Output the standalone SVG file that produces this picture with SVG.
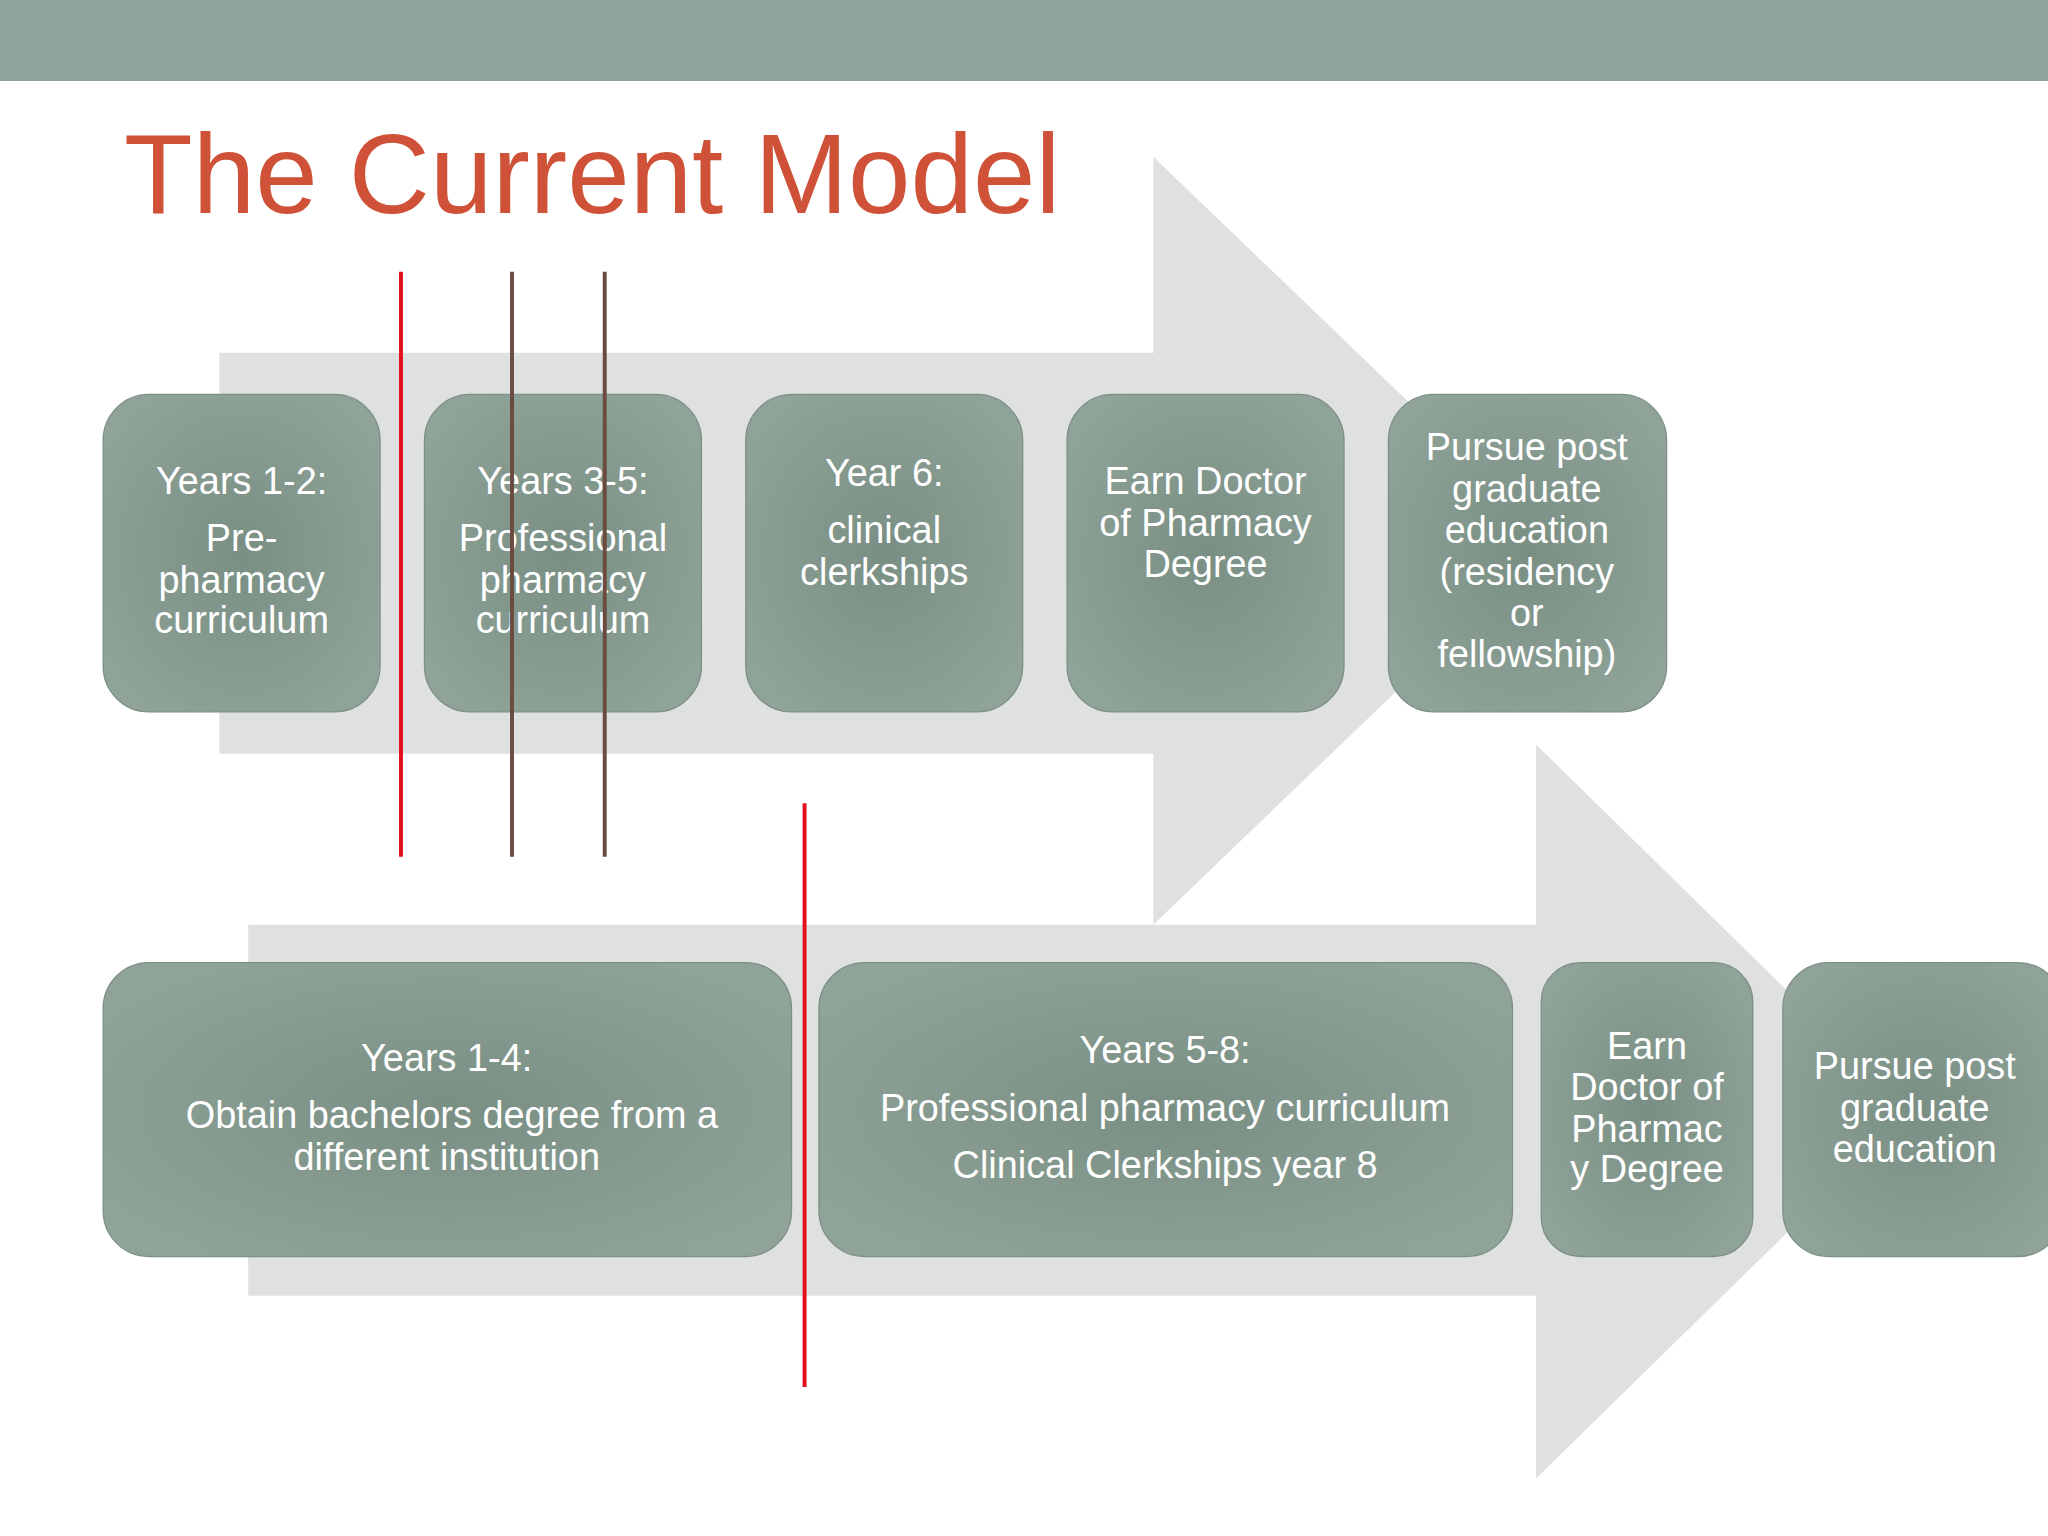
<svg xmlns="http://www.w3.org/2000/svg" width="2048" height="1536" viewBox="0 0 2048 1536">
<defs>
<radialGradient id="g" cx="50%" cy="50%" r="60%"><stop offset="0" stop-color="#7a8f84"/><stop offset="1" stop-color="#8fa398"/></radialGradient>
<style>
.n{fill:url(#g);stroke:#7d8f86;stroke-width:1}
.t{font-family:"Liberation Sans",Arial,sans-serif;font-size:29px;fill:#fff;text-anchor:middle}
.arr{fill:#dfe1e1}
</style>
</defs>
<rect width="2048" height="1536" fill="#fff"/>
<g transform="scale(1.30612)">
<rect x="0" y="0" width="1568" height="62" fill="#8fa39a"/>
<text x="95" y="163" font-family="Liberation Sans,Arial,sans-serif" font-size="86" fill="#cf5238">The Current Model</text>
<g id="arrows">
<polygon class="arr" points="168,270 883,270 883,120 1189,414 883,708 883,577 168,577"/>
<polygon class="arr" points="190,708 1176,708 1176,570 1463,851 1176,1132 1176,992 190,992"/>
</g>
<g id="n1"><rect class="n" x="79" y="302" width="212" height="243" rx="35"/><text class="t" x="185" y="378">Years 1-2:</text><text class="t" x="185" y="422">Pre-</text><text class="t" x="185" y="454">pharmacy</text><text class="t" x="185" y="485">curriculum</text></g>
<g id="n2"><rect class="n" x="325" y="302" width="212" height="243" rx="35"/><text class="t" x="431" y="378">Years 3-5:</text><text class="t" x="431" y="422">Professional</text><text class="t" x="431" y="454">pharmacy</text><text class="t" x="431" y="485">curriculum</text></g>
<g id="n3"><rect class="n" x="571" y="302" width="212" height="243" rx="35"/><text class="t" x="677" y="372">Year 6:</text><text class="t" x="677" y="416">clinical</text><text class="t" x="677" y="448">clerkships</text></g>
<g id="n4"><rect class="n" x="817" y="302" width="212" height="243" rx="35"/><text class="t" x="923" y="378">Earn Doctor</text><text class="t" x="923" y="410">of Pharmacy</text><text class="t" x="923" y="442">Degree</text></g>
<g id="n5"><rect class="n" x="1063" y="302" width="213" height="243" rx="35"/><text class="t" x="1169" y="352">Pursue post</text><text class="t" x="1169" y="384">graduate</text><text class="t" x="1169" y="416">education</text><text class="t" x="1169" y="448">(residency</text><text class="t" x="1169" y="479">or</text><text class="t" x="1169" y="511">fellowship)</text></g>
<g id="n6"><rect class="n" x="79" y="737" width="527" height="225" rx="35"/><text class="t" x="342" y="820">Years 1-4:</text><text class="t" x="346" y="864">Obtain bachelors degree from a</text><text class="t" x="342" y="896">different institution</text></g>
<g id="n7"><rect class="n" x="627" y="737" width="531" height="225" rx="35"/><text class="t" x="892" y="814">Years 5-8:</text><text class="t" x="892" y="858">Professional pharmacy curriculum</text><text class="t" x="892" y="902">Clinical Clerkships year 8</text></g>
<g id="n8"><rect class="n" x="1180" y="737" width="162" height="225" rx="30"/><text class="t" x="1261" y="811">Earn</text><text class="t" x="1261" y="842">Doctor of</text><text class="t" x="1261" y="874">Pharmac</text><text class="t" x="1261" y="905">y Degree</text></g>
<g id="n9"><rect class="n" x="1365" y="737" width="215" height="225" rx="35"/><text class="t" x="1466" y="826">Pursue post</text><text class="t" x="1466" y="858">graduate</text><text class="t" x="1466" y="890">education</text></g>
<g id="lines" stroke-width="3">
<line x1="307" y1="208" x2="307" y2="656" stroke="#e3101c"/>
<line x1="392" y1="208" x2="392" y2="656" stroke="#6b4a40"/>
<line x1="463" y1="208" x2="463" y2="656" stroke="#6b4a40"/>
<line x1="616" y1="615" x2="616" y2="1062" stroke="#e3101c"/>
</g>
</g>
</svg>
